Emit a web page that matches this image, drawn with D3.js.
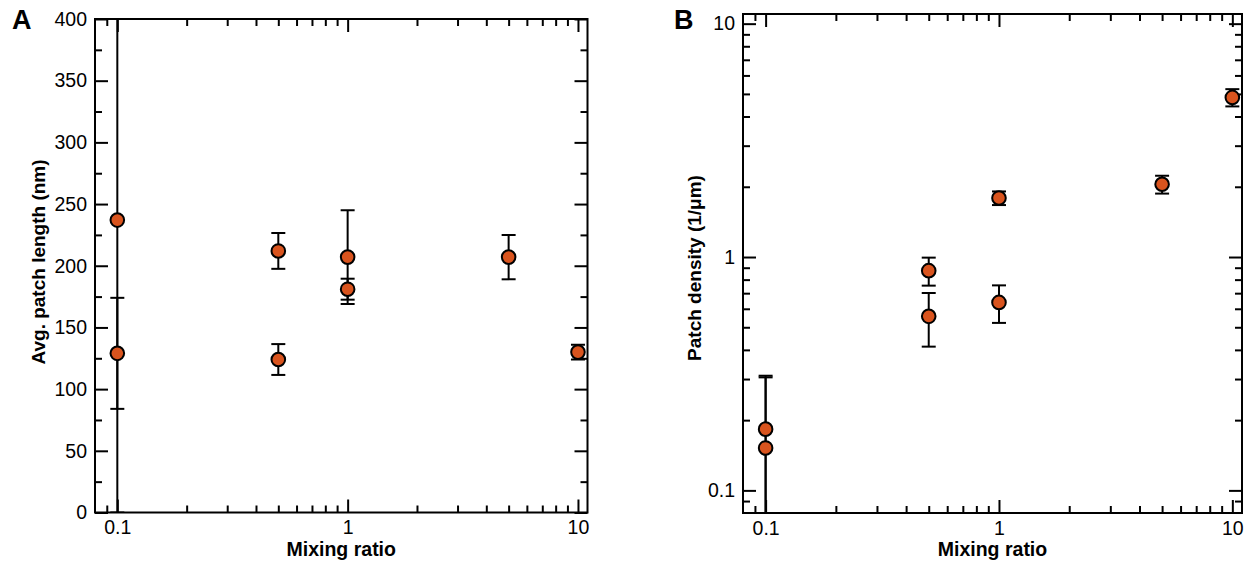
<!DOCTYPE html>
<html>
<head>
<meta charset="utf-8">
<script src="https://cdn.jsdelivr.net/npm/d3@7"></script>
<style>
  body { margin: 0; background: #fff; }
  svg { display: block; font-family: "Liberation Sans", Arial, Helvetica, sans-serif; }
</style>
</head>
<body>
<div id="svg-container"></div>
<script>
// data
var ratioA  = [0.1, 0.1, 0.5, 0.5, 1, 1, 5, 10];
var lengthA = [237, 129, 212, 124, 207, 181, 207, 130];
var lengthErr = [245, 45, 14.5, 12.5, 38, 8.5, 18, 6];

var ratioB   = [0.1, 0.1, 0.5, 0.5, 1, 1, 5, 10];
var densityB = [0.183, 0.152, 0.874, 0.557, 1.79, 0.639, 2.05, 4.83];
var densityErr = [0.127, 0.153, 0.12, 0.144, 0.12, 0.117, 0.18, 0.41];

var ratioMajor = [0.1, 1, 10];
var ratioMinor = [0.09, 0.2, 0.3, 0.4, 0.5, 0.6, 0.7, 0.8, 0.9, 2, 3, 4, 5, 6, 7, 8, 9];
var lengthMajor = [0, 50, 100, 150, 200, 250, 300, 350, 400];
var lengthMinor = [25, 75, 125, 175, 225, 275, 325, 375];
var densityMajor = [0.1, 1, 10];
var densityMinor = [0.09, 0.2, 0.3, 0.4, 0.5, 0.6, 0.7, 0.8, 0.9, 2, 3, 4, 5, 6, 7, 8, 9];

var width = 1257, height = 570;
var fill = "#D9541E";

var svg = d3.select("#svg-container").append("svg")
    .attr("width", width)
    .attr("height", height);

function drawPanel(opt) {
  var x = d3.scaleLog().domain([0.08, 11]).range([opt.left, opt.right]);
  var y = opt.y;
  var g = svg.append("g");

  var clipId = "clip-" + opt.name;
  svg.append("clipPath").attr("id", clipId)
    .append("rect")
      .attr("x", opt.left).attr("y", opt.top)
      .attr("width", opt.right - opt.left).attr("height", opt.bottom - opt.top);

  function axis(gen, tr, vals, size, labels, fmt) {
    var a = gen.tickValues(vals).tickSizeInner(-size).tickSizeOuter(0).tickPadding(8);
    a.tickFormat(labels ? fmt : function() { return ""; });
    var ax = g.append("g").attr("transform", tr).call(a);
    ax.select(".domain").remove();
    ax.selectAll("line").attr("stroke", "#000").attr("stroke-width", 2);
    ax.selectAll("text").attr("fill", "#000").style("font-size", "19.5px");
    return ax;
  }
  var fx = function(d) { return d3.format("~g")(d); };

  // x axes (bottom labelled, top mirror)
  axis(d3.axisBottom(x), "translate(0," + opt.bottom + ")", ratioMajor, 13, true, fx);
  axis(d3.axisBottom(x), "translate(0," + opt.bottom + ")", ratioMinor, 7, false);
  axis(d3.axisTop(x), "translate(0," + opt.top + ")", ratioMajor, 13, false);
  axis(d3.axisTop(x), "translate(0," + opt.top + ")", ratioMinor, 7, false);
  // y axes
  axis(d3.axisLeft(y), "translate(" + opt.left + ",0)", opt.yMajor, 13, true, opt.yFmt);
  axis(d3.axisLeft(y), "translate(" + opt.left + ",0)", opt.yMinor, 7, false);
  axis(d3.axisRight(y), "translate(" + opt.right + ",0)", opt.yMajor, 13, false);
  axis(d3.axisRight(y), "translate(" + opt.right + ",0)", opt.yMinor, 7, false);

  g.append("rect")
    .attr("x", opt.left).attr("y", opt.top)
    .attr("width", opt.right - opt.left).attr("height", opt.bottom - opt.top)
    .attr("fill", "none").attr("stroke", "#000").attr("stroke-width", 2);

  var pts = opt.xs.map(function(v, i) {
    var lo = opt.ys[i] - opt.errs[i];
    if (lo <= 0) lo = 1e-4;
    return {x: v, y: opt.ys[i], lo: lo, hi: opt.ys[i] + opt.errs[i]};
  });

  var bars = g.append("g").attr("clip-path", "url(#" + clipId + ")")
      .attr("stroke", "#000").attr("stroke-width", 2);
  pts.forEach(function(d) {
    var cx = x(d.x);
    bars.append("line").attr("x1", cx).attr("x2", cx).attr("y1", y(d.lo)).attr("y2", y(d.hi));
    [d.lo, d.hi].forEach(function(v) {
      bars.append("line").attr("x1", cx - 7).attr("x2", cx + 7).attr("y1", y(v)).attr("y2", y(v));
    });
  });

  g.selectAll(".pt").data(pts).enter().append("circle")
      .attr("class", "pt")
      .attr("cx", function(d) { return x(d.x); })
      .attr("cy", function(d) { return y(d.y); })
      .attr("r", 6.8)
      .attr("fill", fill)
      .attr("stroke", "#000")
      .attr("stroke-width", 2);

  g.append("text")
      .attr("x", (opt.left + opt.right) / 2).attr("y", 556)
      .attr("text-anchor", "middle")
      .style("font-size", "19.5px").style("font-weight", "bold")
      .text("Mixing ratio");

  g.append("text")
      .attr("transform", "translate(" + opt.ytx + "," + opt.yty + ") rotate(-90)")
      .attr("text-anchor", "middle")
      .style("font-size", "19px").style("font-weight", "bold")
      .text(opt.ytitle);

  g.append("text")
      .attr("x", opt.lx).attr("y", 29)
      .style("font-size", "27px").style("font-weight", "bold")
      .text(opt.name);
}

drawPanel({
  name: "A", left: 95, right: 587.5, top: 19, bottom: 512.5,
  y: d3.scaleLinear().domain([0, 400]).range([512.5, 19]),
  yMajor: lengthMajor, yMinor: lengthMinor, yFmt: d3.format("d"),
  xs: ratioA, ys: lengthA, errs: lengthErr,
  ytitle: "Avg. patch length (nm)", ytx: 45, yty: 262, lx: 12
});

drawPanel({
  name: "B", left: 743, right: 1242, top: 14, bottom: 513,
  y: d3.scaleLog().domain([0.08, 11]).range([513, 14]),
  yMajor: densityMajor, yMinor: densityMinor, yFmt: d3.format("~g"),
  xs: ratioB, ys: densityB, errs: densityErr,
  ytitle: "Patch density (1/\u03bcm)", ytx: 701, yty: 268, lx: 674
});
</script>
</body>
</html>
